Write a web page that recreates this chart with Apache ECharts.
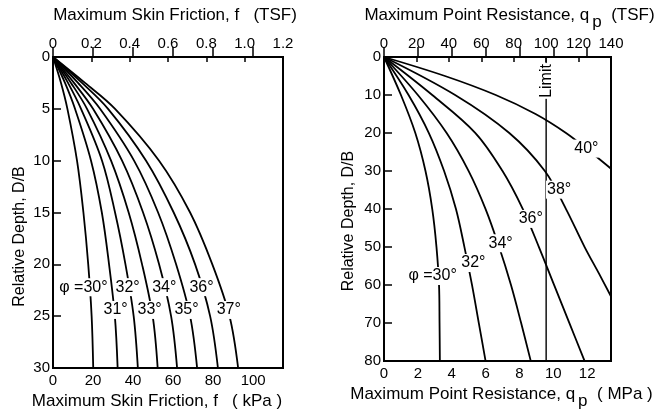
<!DOCTYPE html>
<html>
<head>
<meta charset="utf-8">
<script src="https://cdn.jsdelivr.net/npm/echarts@6/dist/echarts.min.js"></script>
<style>html,body{margin:0;background:#fff}#chart{width:672px;height:415px}</style>
</head>
<body>
<div id="chart"></div>
<script>
// 1 TSF = 95.76 kPa
var TSF_KPA = 95.76;
var LIMIT_TSF = 100;

// left panel: skin friction (kPa) at relative depth D/B
var depthF = [0, 2.5, 5, 10, 15, 20, 25, 30];
var f30 = [0, 4.0, 7.2, 12.0, 15.2, 17.6, 19.3, 20.1];
var f31 = [0, 6.0, 11.0, 19.0, 24.4, 28.0, 30.9, 32.3];
var f32 = [0, 7.5, 14.0, 24.5, 31.0, 36.2, 40.3, 42.4];
var f33 = [0, 9.0, 17.0, 29.0, 37.8, 44.5, 49.8, 52.3];
var f34 = [0, 10.5, 20.0, 34.5, 45.0, 53.0, 59.0, 62.0];
var f35 = [0, 12.5, 23.5, 40.5, 52.5, 61.5, 68.5, 72.0];
var f36 = [0, 14.5, 27.5, 46.5, 60.3, 71.0, 78.5, 82.4];
var f37 = [0, 16.0, 31.0, 53.0, 68.5, 79.6, 88.2, 92.5];
var frictionCurves = [f30, f31, f32, f33, f34, f35, f36, f37];

// right panel: point resistance (MPa) at relative depth D/B
var depthQ = [0, 10, 20, 30, 40, 50, 60, 70, 80];
var q30 = [0, 1.0, 1.85, 2.45, 2.85, 3.1, 3.25, 3.28, 3.3];
var q32 = [0, 1.45, 2.65, 3.55, 4.25, 4.75, 5.2, 5.6, 6.0];
var q34 = [0, 2.0, 3.7, 5.0, 6.0, 6.8, 7.5, 8.1, 8.67];
var q36 = [0, 2.85, 5.4, 7.0, 8.2, 9.15, 10.05, 10.95, 11.85];
var depthQ38 = [0, 10, 20, 30, 40, 50, 57, 63];
var q38 = [0, 4.2, 7.4, 9.5, 10.75, 11.85, 12.7, 13.41];
var depthQ40 = [0, 5, 10, 15, 20, 25, 29.4];
var q40 = [0, 3.6, 6.6, 8.95, 10.75, 12.2, 13.41];

// curve labels: [text, x, D/B]
var frictionLabels = [
  ['\u03c6 =30\u00b0', 15.2, 22.2], ['32\u00b0', 37.3, 22.2], ['34\u00b0', 55.6, 22.2], ['36\u00b0', 74.2, 22.2],
  ['31\u00b0', 31.3, 24.4], ['33\u00b0', 48.3, 24.4], ['35\u00b0', 66.7, 24.4], ['37\u00b0', 87.8, 24.4]
];
var resistanceLabels = [
  ['\u03c6 =30\u00b0', 2.87, 57.6], ['32\u00b0', 5.28, 54.2], ['34\u00b0', 6.89, 49.0],
  ['36\u00b0', 8.67, 42.6], ['38\u00b0', 10.34, 34.9], ['40\u00b0', 11.95, 24.1]
];

var font = 'Liberation Sans, Arial, sans-serif';
var ink = '#000';

function pairs(xs, ys) {
  return xs.map(function (x, i) { return [x, ys[i]]; });
}

function curve(data, g) {
  return {
    type: 'line', xAxisIndex: g * 2, yAxisIndex: g, data: data,
    smooth: 0.35, symbol: 'none', silent: true,
    lineStyle: { color: ink, width: 1.8 }
  };
}

function labels(list, g, rotate) {
  return {
    type: 'scatter', xAxisIndex: g * 2, yAxisIndex: g, symbolSize: 1, silent: true, z: 5,
    itemStyle: { color: '#fff', opacity: 1 },
    data: list.map(function (l) { return { name: l[0], value: [l[1], l[2]] }; }),
    label: {
      show: true, position: 'inside', formatter: '{b}', rotate: rotate || 0,
      color: ink, opacity: 1, fontSize: 16, fontFamily: font,
      backgroundColor: '#fff', padding: [1, 1]
    }
  };
}

function xAx(g, pos, max, interval, tick, fmt, showMax, name, gap, pad) {
  return {
    type: 'value', gridIndex: g, position: pos, min: 0, max: max, interval: interval,
    axisLine: { show: false },
    axisTick: { inside: true, length: tick, lineStyle: { color: ink, width: 1.5 } },
    axisLabel: { color: ink, fontSize: 15, fontFamily: font, margin: pos === 'top' ? 6 : 5,
      showMaxLabel: showMax, formatter: fmt },
    splitLine: { show: false },
    name: name, nameLocation: 'middle', nameGap: gap,
    nameTextStyle: { color: ink, fontSize: 17, fontFamily: font, padding: pad,
      rich: {
        t: { color: ink, fontSize: 17, fontFamily: font, lineHeight: 19, verticalAlign: 'top' },
        s: { color: ink, fontSize: 17, fontFamily: font, lineHeight: 19, verticalAlign: 'top', padding: [7, 0, 0, 3] }
      } }
  };
}

function yAx(g, max, interval, gap, pad) {
  return {
    type: 'value', gridIndex: g, inverse: true, min: 0, max: max, interval: interval,
    axisLine: { show: false },
    axisTick: { inside: true, length: 8, lineStyle: { color: ink, width: 1.5 } },
    axisLabel: { color: ink, fontSize: 15, fontFamily: font, margin: 3 },
    splitLine: { show: false },
    name: 'Relative Depth, D/B', nameLocation: 'middle', nameGap: gap, nameRotate: 90,
    nameTextStyle: { color: ink, fontSize: 16, fontFamily: font, padding: pad }
  };
}

function tsfFmt(v) { return v === 0 ? '0' : v.toFixed(1); }

var series = [];
frictionCurves.forEach(function (c) { series.push(curve(pairs(c, depthF), 0)); });
[[q30, depthQ], [q32, depthQ], [q34, depthQ], [q36, depthQ], [q38, depthQ38], [q40, depthQ40]]
  .forEach(function (c) { series.push(curve(pairs(c[0], c[1]), 1)); });

var limitMPa = LIMIT_TSF * TSF_KPA / 1000;
series.push({
  type: 'line', xAxisIndex: 2, yAxisIndex: 1, symbol: 'none', silent: true,
  data: [[limitMPa, 0], [limitMPa, 80]], lineStyle: { color: ink, width: 1.4 }
});
series.push(labels(frictionLabels, 0));
series.push(labels(resistanceLabels, 1));
series.push(labels([['Limit', limitMPa, 6.3]], 1, 90));

var option = {
  backgroundColor: '#fff',
  animation: false,
  grid: [
    { left: 53, top: 57, width: 230, height: 311, show: true, borderColor: ink, borderWidth: 2 },
    { left: 384, top: 57, width: 227, height: 311, show: true, borderColor: ink, borderWidth: 2 }
  ],
  xAxis: [
    xAx(0, 'bottom', 1.2 * TSF_KPA, 20, 10, null, false,
      'Maximum Skin Friction, f   ( kPa )', 22, [0, 22, 0, 0]),
    xAx(0, 'top', 1.2, 0.2, 5, tsfFmt, true,
      'Maximum Skin Friction, f   (TSF)', 33, [0, 0, 0, 14]),
    xAx(1, 'bottom', 140 * TSF_KPA / 1000, 2, 10, null, false,
      '{t|Maximum Point Resistance, q}{s|p}{t|  ( MPa )}', 20, [0, 0, 0, 8]),
    xAx(1, 'top', 140, 20, 5, null, true,
      '{t|Maximum Point Resistance, q}{s|p}{t|  (TSF)}', 31, [0, 0, 0, 24])
  ],
  yAxis: [
    yAx(0, 30, 5, 25, [0, 48, 0, 0]),
    yAx(1, 80, 10, 27, [0, 24, 0, 0])
  ],
  series: series
};

var chart = echarts.init(document.getElementById('chart'));
chart.setOption(option);
</script>
</body>
</html>
